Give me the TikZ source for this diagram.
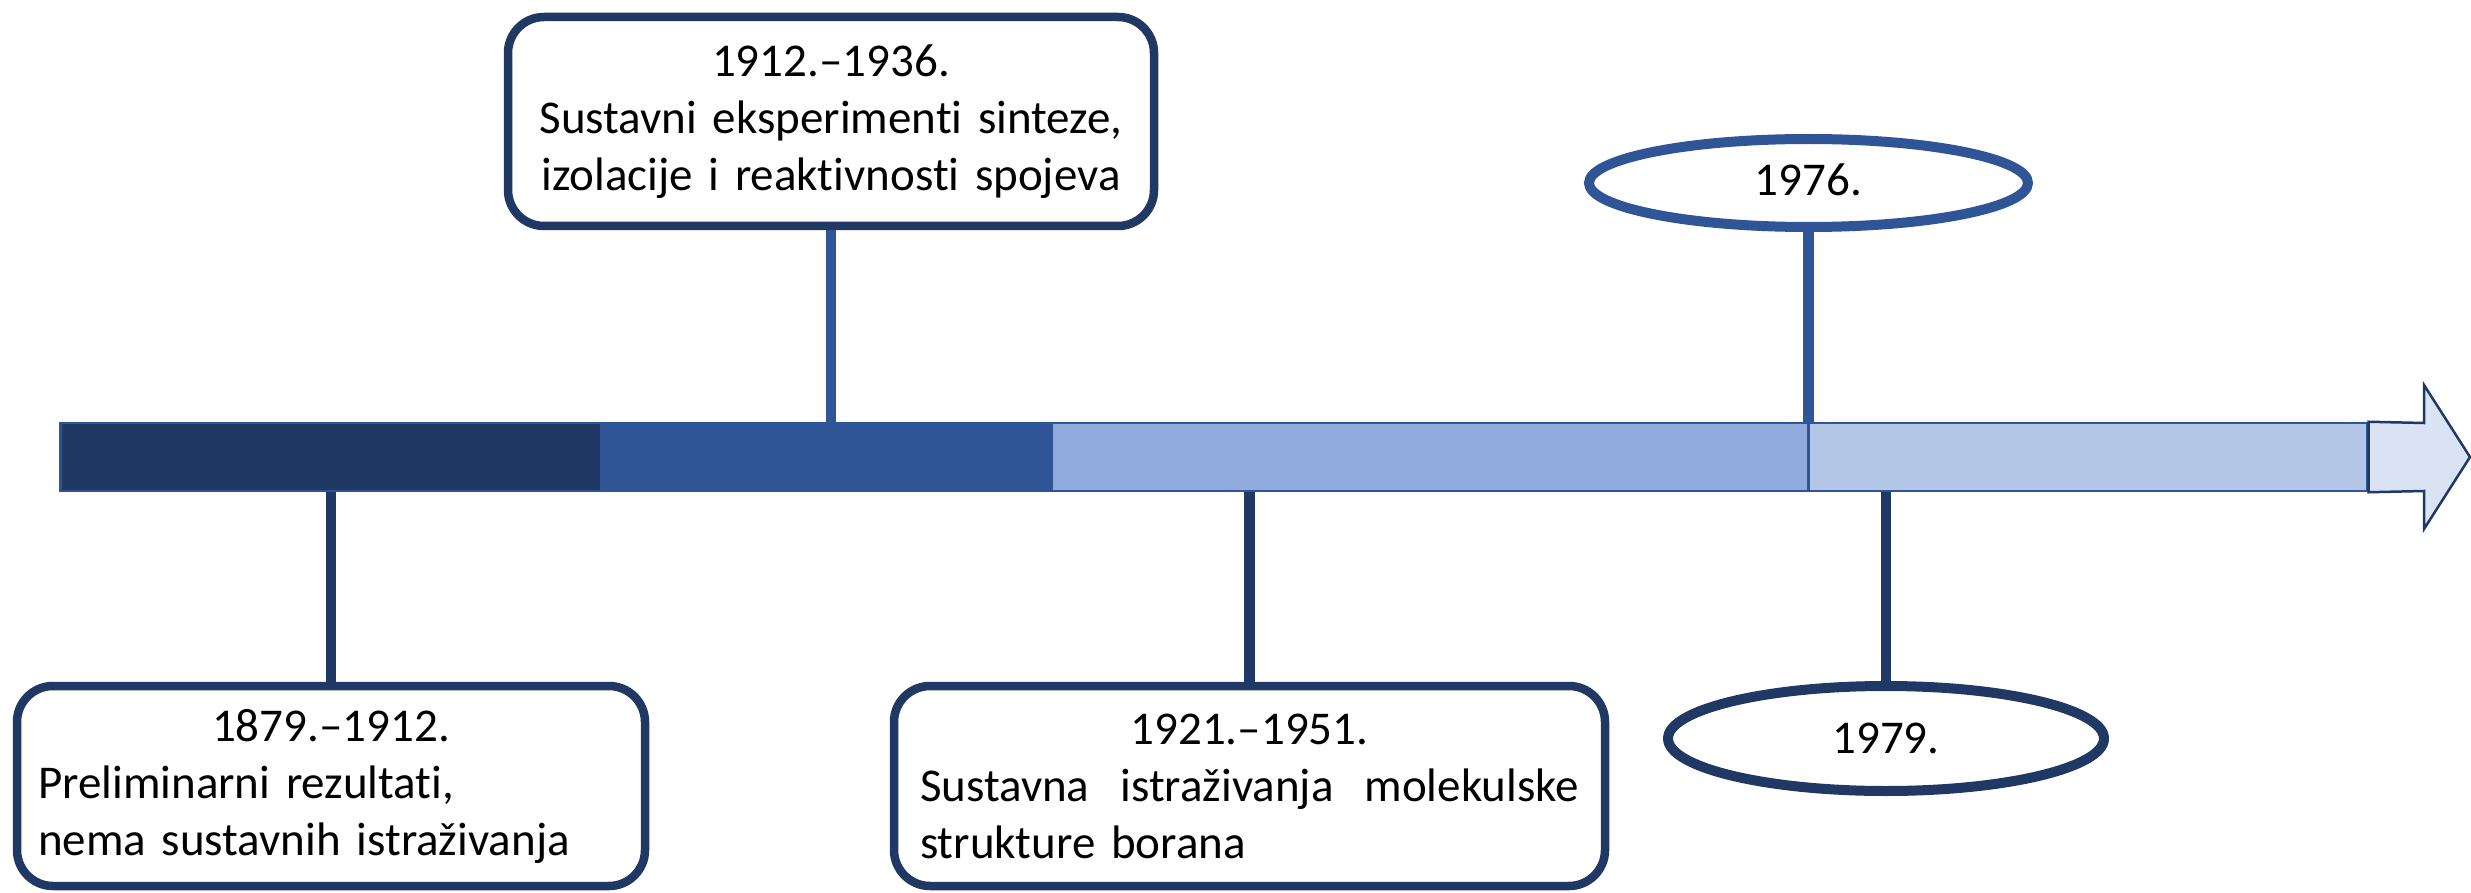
\documentclass[tikz,border=0pt]{standalone}
\usepackage{fontspec}
\setmainfont{Carlito}[Ligatures=NoCommon]
\usetikzlibrary{shapes.geometric}
\definecolor{navy}{HTML}{203864}
\definecolor{midblue}{HTML}{2F5597}
\definecolor{lightblue}{HTML}{8FAADC}
\definecolor{paleblue}{HTML}{B4C7E7}
\definecolor{palestblue}{HTML}{DAE3F3}
\tikzset{
  seg/.style={draw=midblue, line width=2.5pt, minimum height=68pt, inner sep=0pt, anchor=west},
  infobox/.style={draw=navy, line width=8.5pt, rounded corners=36pt, fill=white, inner sep=0pt,
    font=\fontsize{47}{57}\selectfont},
  yearell/.style={ellipse, line width=10pt, fill=white, inner sep=0pt,
    font=\fontsize{47}{57}\selectfont},
  conn/.style={line width=10.5pt},
}
\begin{document}
\begin{tikzpicture}[x=1pt,y=-1pt]
\useasboundingbox (0,0) rectangle (2471,893);
% bar segments
\node[seg, fill=navy, minimum width=541pt] (seg1) at (59,457) {};
\node[seg, fill=midblue, minimum width=450pt] (seg2) at (600,457) {};
\node[seg, fill=lightblue, minimum width=757pt] (seg3) at (1050,457) {};
\node[seg, fill=paleblue, minimum width=559pt] (seg4) at (1807,457) {};
% arrow head
\draw[navy, line width=2.5pt, fill=palestblue]
  (seg4.north east) -- (2424,423) -- (2424,385) -- (2470,457) -- (2424,529) -- (2424,491) -- (seg4.south east) -- cycle;
% boxes
\node[infobox, minimum width=628pt, minimum height=200pt, text width=586pt] (b1) at (331,786)
  {{\centering 1879.–1912.\par}\raggedright Preliminarni rezultati,\\ nema sustavnih istraživanja};
\node[infobox, minimum width=646pt, minimum height=209pt, text width=620pt, align=center] (b2) at (831,121.5)
  {1912.–1936.\\ Sustavni eksperimenti sinteze,\\ izolacije i reaktivnosti spojeva};
\node[infobox, minimum width=711pt, minimum height=200pt, text width=659pt] (b3) at (1249.5,786)
  {{\centering 1921.–1951.\par}\noindent\hbox to\linewidth{Sustavna\hfill istraživanja\hfill molekulske}\par\noindent strukture borana};
% ellipses
\node[yearell, draw=midblue, minimum width=439pt, minimum height=88pt] (e1) at (1808.5,183) {1976.\vphantom{y}};
\node[yearell, draw=navy, minimum width=436pt, minimum height=105pt] (e2) at (1886,738.5) {1979.};
% connectors
\draw[conn, navy] (b1.north) -- (b1.north |- seg1.south);
\draw[conn, midblue] (b2.south) -- (b2.south |- seg2.north);
\draw[conn, navy] (b3.north) -- (b3.north |- seg3.south);
\draw[conn, midblue] (e1.south) -- (e1.south |- seg4.north);
\draw[conn, navy] (e2.north) -- (e2.north |- seg4.south);
\end{tikzpicture}
\end{document}
